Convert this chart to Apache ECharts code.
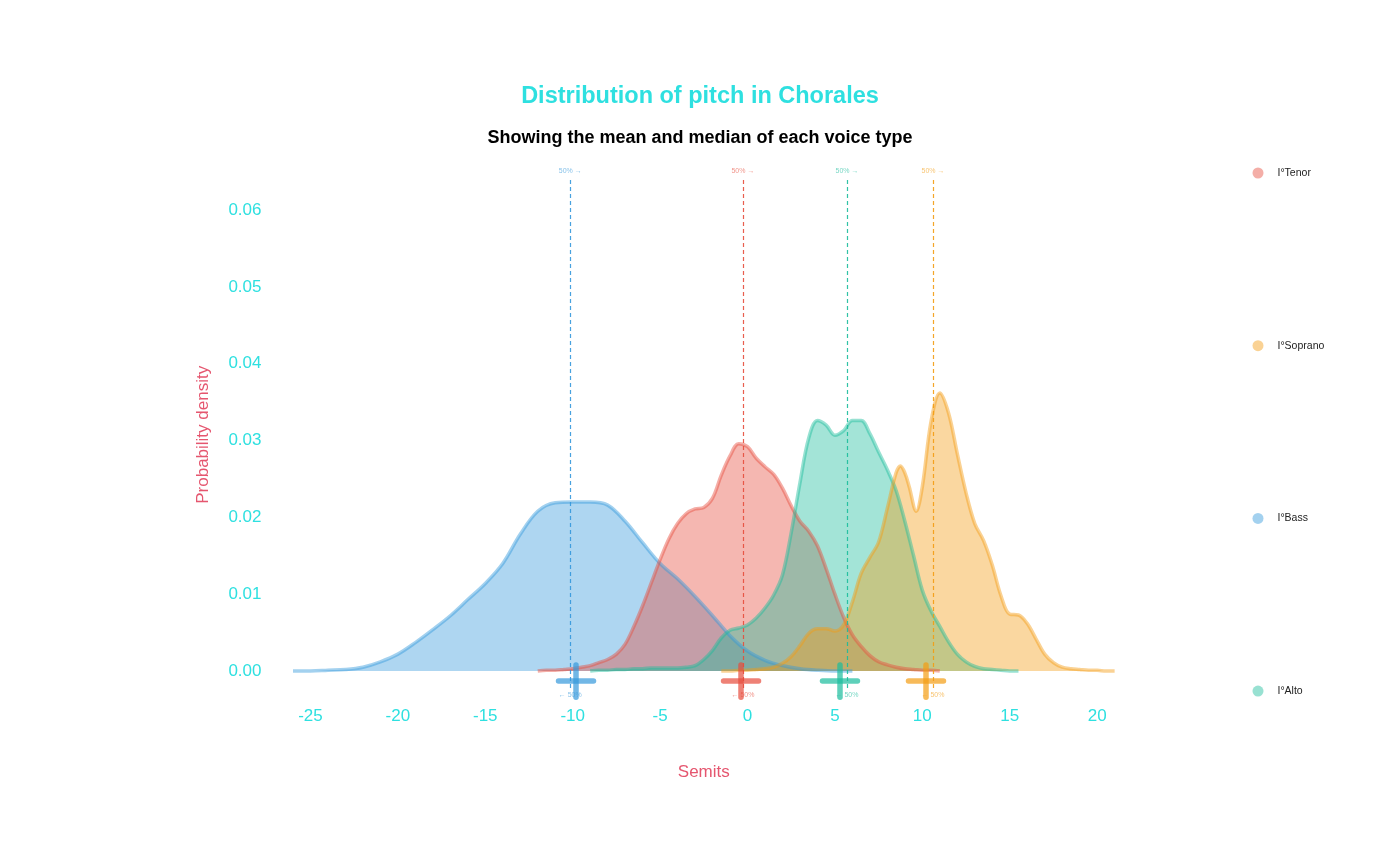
<!DOCTYPE html>
<html>
<head>
<meta charset="utf-8">
<script src="https://cdn.jsdelivr.net/npm/echarts@6/dist/echarts.min.js"></script>
<style>html,body{margin:0;padding:0;background:#fff}#chart{width:1400px;height:865px}</style>
</head>
<body>
<div id="chart"></div>
<script>
// ---- data ----
var voices = ['I°Tenor', 'I°Soprano', 'I°Bass', 'I°Alto'];
var colors = { 'I°Tenor': '#E74C3C', 'I°Soprano': '#F39C12', 'I°Bass': '#3498DB', 'I°Alto': '#1ABC9C' };
var xTicks = [-25, -20, -15, -10, -5, 0, 5, 10, 15, 20];
var yTicks = [0, 0.01, 0.02, 0.03, 0.04, 0.05, 0.06];

var bassX = [-26,-25,-24,-23,-22,-21,-20,-19,-18,-17,-16,-15,-14,-13,-12,-11,-10,-9,-8,-7,-6,-5,-4,-3,-2,-1,0,1,2,3,4,5,6];
var bassY = [0.0000,0.0000,0.0001,0.0002,0.0005,0.0012,0.0022,0.0037,0.0054,0.0072,0.0093,0.0114,0.0140,0.0178,0.0208,0.0219,0.0220,0.0220,0.0216,0.0195,0.0167,0.0140,0.0120,0.0097,0.0072,0.0046,0.0026,0.0014,0.0007,0.0003,0.0001,0.0000,0.0000];

var tenorX = [-12,-11.5,-11,-10.5,-10,-9.5,-9,-8.5,-8,-7.5,-7,-6.5,-6,-5.5,-5,-4.5,-4,-3.5,-3,-2.5,-2,-1.5,-1,-0.5,0,0.5,1,1.5,2,2.5,3,3.5,4,4.5,5,5.5,6,6.5,7,7.5,8,8.5,9,9.5,10,10.5,11];
var tenorY = [0,0.0001,0.0001,0.0002,0.0003,0.0005,0.0007,0.0011,0.0015,0.0022,0.0035,0.0058,0.0085,0.0115,0.0145,0.0172,0.0192,0.0205,0.0211,0.0213,0.0225,0.0255,0.0280,0.0296,0.0292,0.0277,0.0266,0.0256,0.0238,0.0215,0.0195,0.0182,0.0163,0.0133,0.0100,0.0070,0.0047,0.0032,0.0020,0.0012,0.0008,0.0005,0.0003,0.0002,0.0001,0.0001,0];

var altoX = [-9,-8.5,-8,-7.5,-7,-6.5,-6,-5.5,-5,-4.5,-4,-3.5,-3,-2.5,-2,-1.5,-1,-0.5,0,0.5,1,1.5,2,2.5,3,3.5,4,4.5,5,5.5,6,6.5,7,7.5,8,8.5,9,9.5,10,10.5,11,11.5,12,12.5,13,13.5,14,14.5,15,15.5];
var altoY = [0,0.0001,0.0001,0.0002,0.0002,0.0003,0.0003,0.0004,0.0004,0.0004,0.0004,0.0005,0.0007,0.0015,0.0027,0.0043,0.0053,0.0056,0.0060,0.0069,0.0082,0.0099,0.0125,0.0180,0.0245,0.0303,0.0326,0.0320,0.0307,0.0313,0.0326,0.0326,0.0309,0.0285,0.0262,0.0235,0.0195,0.0150,0.0105,0.0078,0.0058,0.0038,0.0022,0.0012,0.0006,0.0003,0.0002,0.0001,0.0000,0];

var sopranoX = [-1.5,-1,-0.5,0,0.5,1,1.5,2,2.5,3,3.5,4,4.5,5,5.5,6,6.5,7,7.5,8,8.5,8.75,9,9.25,9.65,10,10.5,11,11.5,12,12.5,13,13.5,14,14.5,15,15.5,16,16.5,17,17.5,18,18.5,19,19.5,20,20.5,21];
var sopranoY = [0,0.0000,0.0001,0.0001,0.0002,0.0003,0.0005,0.0010,0.0019,0.0033,0.0049,0.0055,0.0055,0.0052,0.0060,0.0090,0.0127,0.0148,0.0168,0.0212,0.0258,0.0267,0.0258,0.0240,0.0208,0.0240,0.0325,0.0362,0.0336,0.0283,0.0232,0.0192,0.0170,0.0138,0.0098,0.0074,0.0073,0.0062,0.0042,0.0022,0.0011,0.0005,0.0003,0.0002,0.0001,0.0001,0.0000,0];

var medians = { 'I°Tenor': -0.26, 'I°Soprano': 10.61, 'I°Bass': -10.14, 'I°Alto': 5.69 };
var means   = { 'I°Tenor': -0.37, 'I°Soprano': 10.21, 'I°Bass': -9.81, 'I°Alto': 5.29 };

// ---- build ----
function pairs(xs, ys) { return xs.map(function (x, i) { return [x, ys[i]]; }); }
function rgba(hex, a) {
  var r = parseInt(hex.substr(1, 2), 16), g = parseInt(hex.substr(3, 2), 16), b = parseInt(hex.substr(5, 2), 16);
  return 'rgba(' + r + ',' + g + ',' + b + ',' + a + ')';
}
var curveData = {
  'I°Bass': pairs(bassX, bassY),
  'I°Tenor': pairs(tenorX, tenorY),
  'I°Alto': pairs(altoX, altoY),
  'I°Soprano': pairs(sopranoX, sopranoY)
};
var drawOrder = ['I°Bass', 'I°Tenor', 'I°Alto', 'I°Soprano'];
var FONT = 'Liberation Sans, Arial, sans-serif';

var series = drawOrder.map(function (name) {
  var c = colors[name], med = medians[name], mu = means[name];
  return {
    name: name,
    type: 'line',
    data: curveData[name],
    smooth: 0.35,
    showSymbol: false,
    symbol: 'none',
    itemStyle: { color: c },
    lineStyle: { color: rgba(c, 0.45), width: 3.5 },
    areaStyle: { color: c, opacity: 0.4 },
    emphasis: { disabled: true },
    markLine: {
      silent: true,
      symbol: 'none',
      animation: false,
      label: { show: false },
      data: [
        [{ coord: [med, -0.0022], lineStyle: { type: [4, 3], width: 1.2, color: c, opacity: 0.9 } }, { coord: [med, 0.0642] }],
        [{ coord: [mu, 0.0008], lineStyle: { type: 'solid', width: 5.5, color: c, opacity: 0.7, cap: 'round' } }, { coord: [mu, -0.0034] }],
        [{ coord: [mu - 1.0, -0.0013], lineStyle: { type: 'solid', width: 5.5, color: c, opacity: 0.7, cap: 'round' } }, { coord: [mu + 1.0, -0.0013] }]
      ]
    },
    markPoint: {
      silent: true,
      animation: false,
      symbol: 'circle',
      symbolSize: 0,
      label: { show: true, position: 'inside', fontSize: 7, color: rgba(c, 0.6), fontFamily: FONT },
      data: [
        { coord: [med, 0.0651], label: { formatter: '50% →' } },
        { coord: [med, -0.0031], label: { formatter: '← 50%' } }
      ]
    }
  };
});

var chart = echarts.init(document.getElementById('chart'), null, { renderer: 'canvas' });
chart.setOption({
  backgroundColor: '#ffffff',
  animation: false,
  textStyle: { fontFamily: FONT },
  title: [
    { text: 'Distribution of pitch in Chorales', left: 'center', top: 80,
      textStyle: { color: '#2ee0e0', fontSize: 23.5, fontWeight: 'bold', fontFamily: FONT } },
    { text: 'Showing the mean and median of each voice type', left: 'center', top: 124,
      textStyle: { color: '#000000', fontSize: 18, fontWeight: 'bold', fontFamily: FONT } }
  ],
  legend: {
    orient: 'vertical',
    left: 1247.5,
    top: 162.5,
    itemGap: 161.7,
    itemWidth: 11,
    itemHeight: 11,
    icon: 'circle',
    selectedMode: false,
    data: voices.map(function (v) { return { name: v, itemStyle: { color: rgba(colors[v], 0.45) } }; }),
    textStyle: { fontSize: 10.5, color: '#222', padding: [0, 0, 0, 9] }
  },
  grid: { left: 275.5, right: 267.9, top: 164, bottom: 159.4, containLabel: false },
  xAxis: {
    type: 'value',
    min: -27,
    max: 22,
    name: 'Semits',
    nameLocation: 'middle',
    nameGap: 58,
    nameTextStyle: { color: '#e5566f', fontSize: 17 },
    axisLine: { show: false },
    axisTick: { show: false },
    splitLine: { show: false },
    axisLabel: { customValues: xTicks, color: '#2ee0e0', fontSize: 17, margin: 2 }
  },
  yAxis: {
    type: 'value',
    min: -0.0045,
    max: 0.066,
    name: 'Probability density',
    nameLocation: 'middle',
    nameGap: 64,
    nameTextStyle: { color: '#e5566f', fontSize: 17 },
    axisLine: { show: false },
    axisTick: { show: false },
    splitLine: { show: false },
    axisLabel: { customValues: yTicks, color: '#2ee0e0', fontSize: 17, margin: 14,
      formatter: function (v) { return v.toFixed(2); } }
  },
  series: series
});
</script>
</body>
</html>
